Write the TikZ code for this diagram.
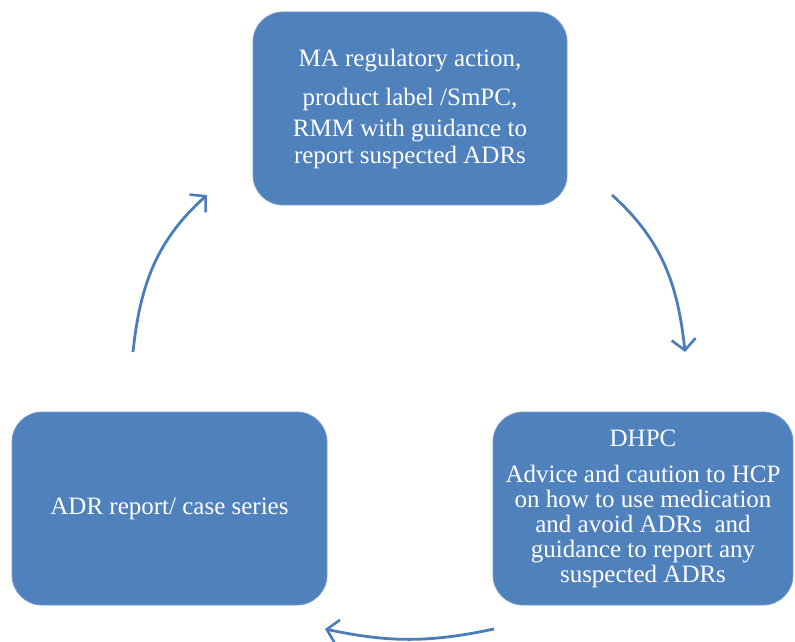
\documentclass[tikz,border=0pt]{standalone}
\usepackage{fontspec}
\setmainfont{Liberation Serif}
\usetikzlibrary{arrows.meta}
\definecolor{boxblue}{HTML}{4F81BD}
\definecolor{arrowblue}{HTML}{4A7EBB}
\tikzset{
  cyclebox/.style={fill=boxblue, draw=boxblue!80!white, line width=0.8pt, rounded corners=30pt,
    text=white, align=center, inner sep=0pt, minimum height=193pt},
  cyclearrow/.style={draw=arrowblue, line width=2.8pt,
    -{Straight Barb[length=11pt,width=24pt,line width=2.6pt]}}
}
\begin{document}
\begin{tikzpicture}[x=1pt,y=1pt]
\fill[white] (0,0) rectangle (795,641);
\useasboundingbox (0,0) rectangle (795,641);
\node[cyclebox, minimum width=314pt, font={\fontsize{25}{27}\selectfont}] (top) at (410,532.5)
  {MA regulatory action,\\[12pt]
   product label /SmPC,\\[4pt]
   RMM with guidance to\\
   report suspected ADRs};
\node[cyclebox, minimum width=300pt, font={\fontsize{25}{25}\selectfont}] (right) at (643,132.5)
  {DHPC\\[11pt]
   Advice and caution to HCP\\
   on how to use medication\\
   and avoid ADRs\ \ and\\
   guidance to report any\\
   suspected ADRs};
\node[cyclebox, minimum width=315pt, font={\fontsize{25}{27}\selectfont}] (left) at (169.5,132.5)
  {ADR report/ case series};
\coordinate (a1s) at (133,289);
\coordinate (a1e) at (207,446);
\coordinate (a2s) at (612,446);
\coordinate (a2e) at (685,289);
\coordinate (a3s) at (494,12);
\coordinate (a3e) at (325,12);
\draw[cyclearrow] (a1s) to[out=84,in=-138] (a1e);
\draw[cyclearrow] (a2s) to[out=-42,in=96] (a2e);
\draw[cyclearrow] (a3s) to[out=192,in=-12] (a3e);
\end{tikzpicture}
\end{document}
